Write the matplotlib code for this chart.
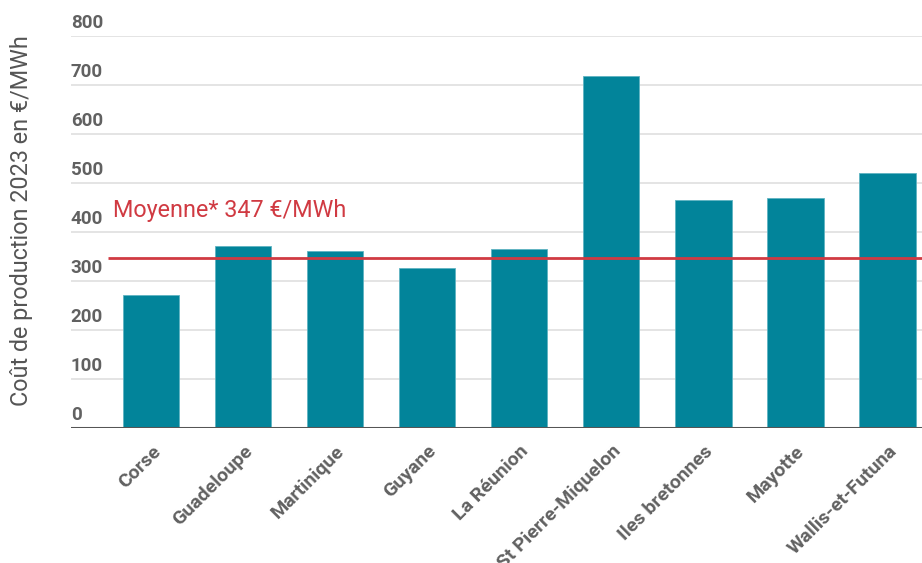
import matplotlib
matplotlib.use("Agg")
import matplotlib.pyplot as plt

# data
regions = ["Corse", "Guadeloupe", "Martinique", "Guyane", "La Réunion",
           "St Pierre-Miquelon", "Iles bretonnes", "Mayotte", "Wallis-et-Futuna"]
costs = [272, 371, 362, 327, 366, 719, 465, 470, 521]
average = 347
average_label = "Moyenne* 347 €/MWh"
y_ticks = [0, 100, 200, 300, 400, 500, 600, 700, 800]
y_title = "Coût de production 2023 en €/MWh"

plt.rcParams['font.family'] = ['Roboto', 'DejaVu Sans']

fig = plt.figure(figsize=(9.22, 5.63), dpi=100)
ax = fig.add_axes([0.0767, 0.2393, 0.9233, 0.6971])

x = list(range(len(regions)))
ax.bar(x, costs, width=0.61, color='#02849a', edgecolor='#5fb3c2',
       linewidth=0.6, zorder=2)

ax.set_xlim(-0.876, 8.375)
ax.set_ylim(0, 800)

# gridlines
for v in y_ticks[1:]:
    ax.axhline(v, color='#dcdcdc', linewidth=1.1, zorder=1)
ax.axhline(0, color='#555555', linewidth=2.2, zorder=3)

# average line + label
ax.hlines(average, -0.47, 8.375, color='#d03a42', linewidth=2.0, zorder=4)
ax.text(-0.416, 443, average_label, color='#d03a42', fontsize=16.8,
        va='center', ha='left')

# y tick labels sitting above the gridlines
for v in y_ticks:
    ax.annotate(str(v), xy=(0, v), xycoords=('axes fraction', 'data'),
                xytext=(0, 3), textcoords='offset points',
                ha='left', va='bottom', fontsize=13.5, fontweight='semibold',
                color='#616161', annotation_clip=False)

ax.set_yticks([])
ax.set_xticks(x)
ax.set_xticklabels(regions, rotation=45, ha='right', va='top',
                   rotation_mode='anchor', fontsize=14,
                   fontweight='semibold', color='#616161')
ax.tick_params(axis='x', length=0, pad=10)

for s in ax.spines.values():
    s.set_visible(False)

fig.text(0.023, 0.608, y_title, rotation=90, ha='center', va='center',
         fontsize=16.8, color='#555555')

fig.savefig("out.png", dpi=100)
